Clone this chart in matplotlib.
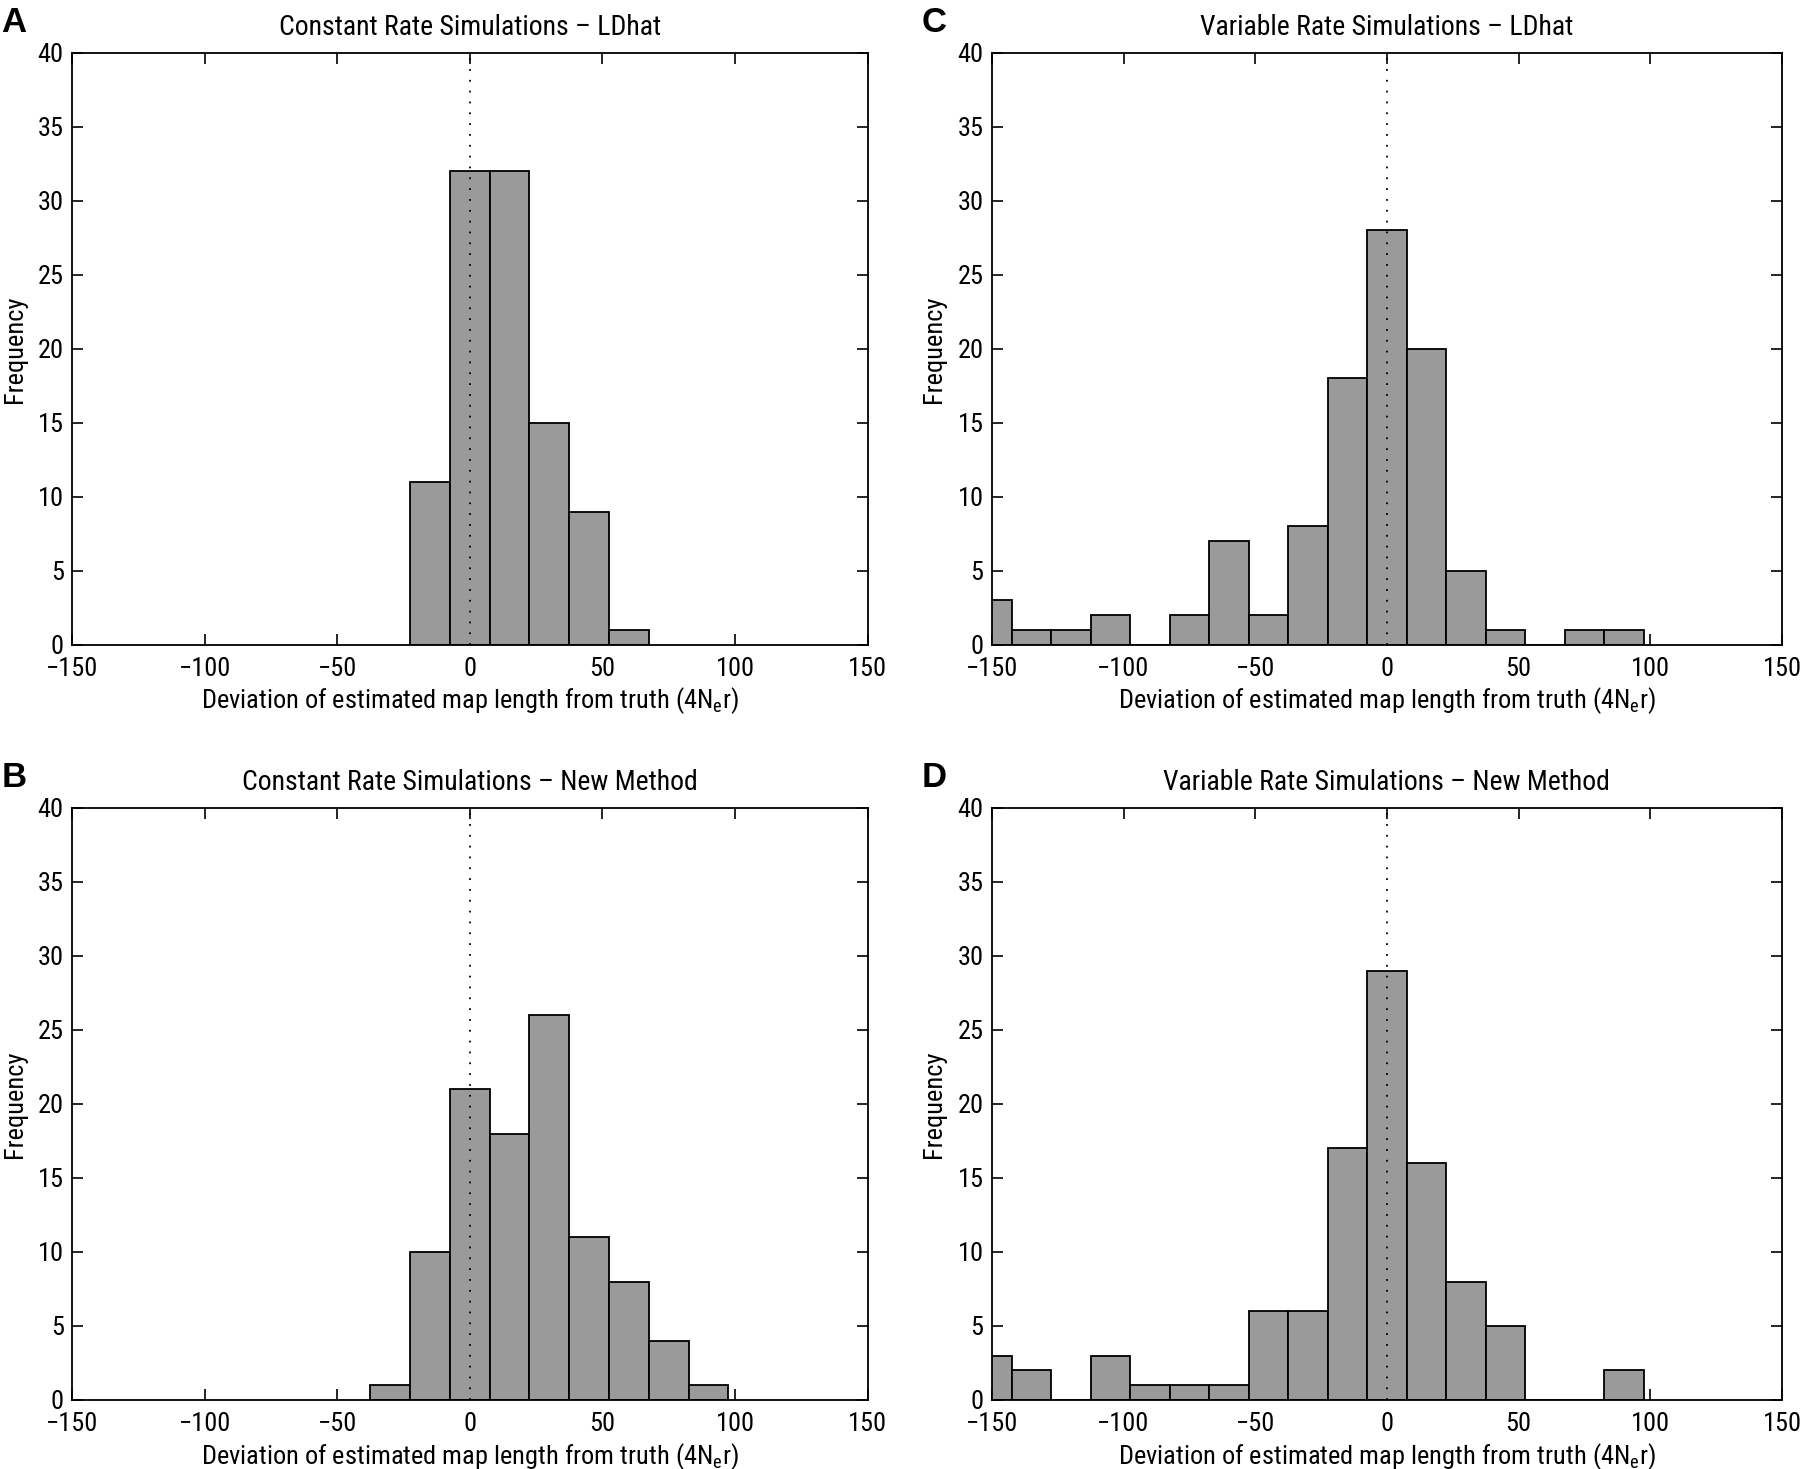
import matplotlib
matplotlib.use("Agg")
import matplotlib.pyplot as plt
from matplotlib import font_manager

# ---- data ----
bin_centers_A = [-15, 0, 15, 30, 45, 60]
counts_A = [11, 32, 32, 15, 9, 1]

bin_centers_B = [-30, -15, 0, 15, 30, 45, 60, 75, 90]
counts_B = [1, 10, 21, 18, 26, 11, 8, 4, 1]

bin_centers_CD = [-150, -135, -120, -105, -90, -75, -60, -45, -30, -15, 0, 15, 30, 45, 60, 75, 90]
counts_C = [3, 1, 1, 2, 0, 2, 7, 2, 8, 18, 28, 20, 5, 1, 0, 1, 1]
counts_D = [3, 2, 0, 3, 1, 1, 1, 6, 6, 17, 29, 16, 8, 5, 0, 0, 2]

titles = ["Constant Rate Simulations \u2013 LDhat",
          "Constant Rate Simulations \u2013 New Method",
          "Variable Rate Simulations \u2013 LDhat",
          "Variable Rate Simulations \u2013 New Method"]
letters = ["A", "B", "C", "D"]
xticks = [-150, -100, -50, 0, 50, 100, 150]
yticks = [0, 5, 10, 15, 20, 25, 30, 35, 40]
bin_width = 15

# ---- fonts ----
avail = {f.name for f in font_manager.fontManager.ttflist}
narrow = 'Roboto Condensed' in avail
fam = [f for f in ["Roboto Condensed", "Liberation Sans", "DejaVu Sans"] if f in avail]
plt.rcParams['font.family'] = fam
plt.rcParams['axes.unicode_minus'] = True
fs = 19 if narrow else 18
fs_t = 20 if narrow else 18
fs_x = 19 if narrow else 17

fig = plt.figure(figsize=(18, 14.69), dpi=100)

positions = [
    [0.040, 0.561, 0.442, 0.403],  # A
    [0.040, 0.047, 0.442, 0.403],  # B
    [0.551, 0.561, 0.439, 0.403],  # C
    [0.551, 0.047, 0.439, 0.403],  # D
]
datasets = [(bin_centers_A, counts_A), (bin_centers_B, counts_B),
            (bin_centers_CD, counts_C), (bin_centers_CD, counts_D)]

for pos, (centers, counts), title, letter in zip(positions, datasets, titles, letters):
    ax = fig.add_axes(pos)
    ax.bar(centers, counts, width=bin_width, color='#9a9a9a', edgecolor='black',
           linewidth=1.3, align='center', zorder=2)
    ax.plot([0, 0], [0, 40], linestyle=(0, (1, 5)), color='black', linewidth=1.3, zorder=3)
    ax.set_xlim(-150, 150)
    ax.set_ylim(0, 40)
    ax.set_xticks(xticks)
    ax.set_yticks(yticks)
    ax.tick_params(direction='in', top=True, right=True, length=8, width=1.2,
                   labelsize=fs, pad=6)
    ax.tick_params(axis='x', pad=9)
    for s in ax.spines.values():
        s.set_linewidth(1.3)
        s.set_zorder(4)
    ax.set_title(title, fontsize=fs_t, pad=13)
    ax.set_xlabel('Deviation of estimated map length from truth (4N$_\\mathregular{e}$r)',
                  fontsize=fs_x, labelpad=3)
    ax.set_ylabel('Frequency', fontsize=fs, labelpad=8)
    ax.text(-0.073, 1.036, letter, transform=ax.transAxes, fontsize=25,
            fontweight='bold', ha='center', va='baseline', family=['Liberation Sans', 'DejaVu Sans'])

fig.savefig('out.png', dpi=100)
